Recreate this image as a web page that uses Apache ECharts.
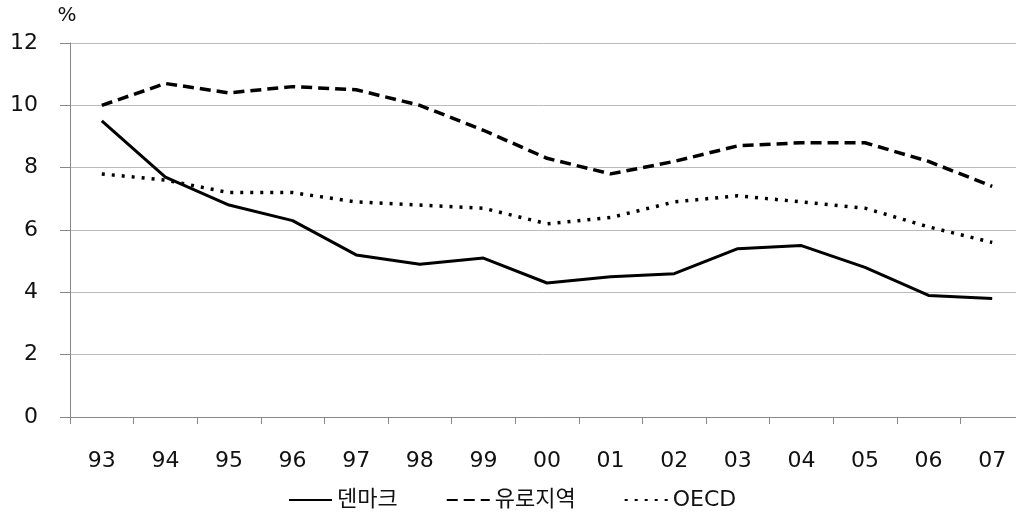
<!DOCTYPE html>
<html>
<head>
<meta charset="utf-8">
<script src="https://cdn.jsdelivr.net/npm/echarts@6/dist/echarts.min.js"></script>
<style>
  html, body { margin: 0; padding: 0; background: #fff; }
  #chart { width: 1016px; height: 522px; }
</style>
</head>
<body>
<div id="chart"></div>
<script>
// 연도
const years = ['93', '94', '95', '96', '97', '98', '99', '00', '01', '02', '03', '04', '05', '06', '07']
// 실업률 (%)
const denmark = [9.5, 7.7, 6.8, 6.3, 5.2, 4.9, 5.1, 4.3, 4.5, 4.6, 5.4, 5.5, 4.8, 3.9, 3.8]
const euroArea = [10.0, 10.7, 10.4, 10.6, 10.5, 10.0, 9.2, 8.3, 7.8, 8.2, 8.7, 8.8, 8.8, 8.2, 7.4]
const oecd = [7.8, 7.6, 7.2, 7.2, 6.9, 6.8, 6.7, 6.2, 6.4, 6.9, 7.1, 6.9, 6.7, 6.1, 5.6]

const font = '"DejaVu Sans", "Noto Sans CJK KR", sans-serif'
const chart = echarts.init(document.getElementById('chart'))

const makeLine = (name, data, type, width) => ({
  name: name,
  type: 'line',
  data: data,
  symbol: 'none',
  lineStyle: { color: '#000', width: width, type: type },
  itemStyle: { color: '#000' }
})

chart.setOption({
  animation: false,
  textStyle: { fontFamily: font },
  // 오른쪽 끝 범주 칸이 그림 밖으로 조금 나감
  grid: { left: 70, right: -8, top: 43, bottom: 105, outerBoundsMode: 'none' },
  legend: {
    bottom: 6,
    left: 283,
    itemWidth: 43,
    itemHeight: 10,
    itemGap: 48,
    itemStyle: { opacity: 0 },
    textStyle: { fontSize: 22, color: '#111', fontFamily: font },
    data: ['덴마크', '유로지역', 'OECD']
  },
  xAxis: {
    type: 'category',
    data: years,
    boundaryGap: true,
    axisLine: { lineStyle: { color: '#888', width: 1 } },
    axisTick: { show: true, length: 7, lineStyle: { color: '#888' } },
    axisLabel: { fontSize: 22, color: '#111', margin: 33 }
  },
  yAxis: {
    type: 'value',
    min: 0,
    max: 12,
    interval: 2,
    name: '%',
    nameLocation: 'end',
    nameGap: 17,
    nameTextStyle: { fontSize: 20, color: '#111', align: 'center', padding: [0, 6, 0, 0] },
    axisLine: { show: true, lineStyle: { color: '#888' } },
    axisTick: { show: true, length: 10, lineStyle: { color: '#888' } },
    splitLine: { lineStyle: { color: '#bbb', width: 1 } },
    axisLabel: { fontSize: 22, color: '#111', margin: 32 }
  },
  series: [
    makeLine('덴마크', denmark, 'solid', 3),
    makeLine('유로지역', euroArea, [11, 6], 3.5),
    makeLine('OECD', oecd, [3, 7], 3.5)
  ]
})
</script>
</body>
</html>
